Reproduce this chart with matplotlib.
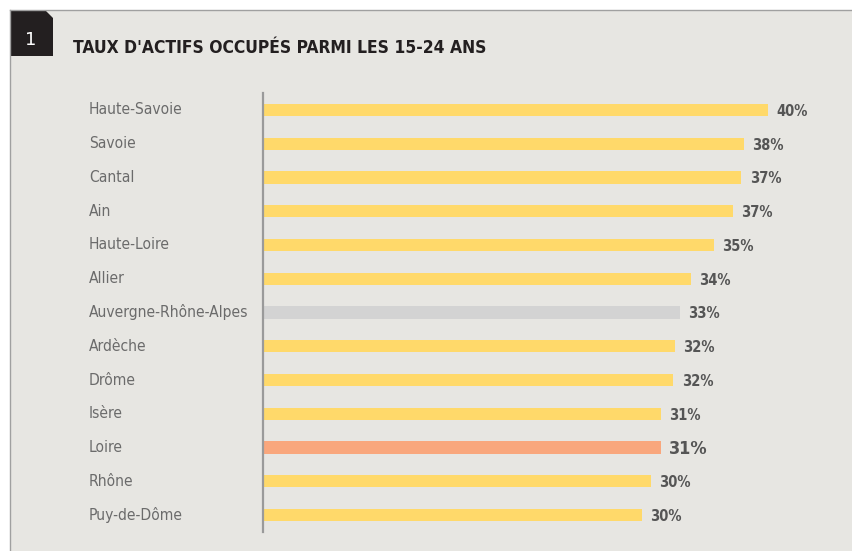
import matplotlib
matplotlib.use('Agg')
import matplotlib.pyplot as plt
from matplotlib.patches import Rectangle, Polygon

# data
departements = ["Haute-Savoie", "Savoie", "Cantal", "Ain", "Haute-Loire", "Allier",
                "Auvergne-Rhône-Alpes", "Ardèche", "Drôme", "Isère", "Loire", "Rhône",
                "Puy-de-Dôme"]
taux = [40.0, 38.1, 37.9, 37.2, 35.7, 33.9, 33.0, 32.6, 32.5, 31.5, 31.5, 30.7, 30.0]
labels_taux = ["40%", "38%", "37%", "37%", "35%", "34%", "33%", "32%", "32%", "31%",
               "31%", "30%", "30%"]
region = "Auvergne-Rhône-Alpes"
focus = "Loire"

W, H = 853, 551
BG = "#e7e6e2"
YELLOW = "#ffd96a"
GREY = "#d3d3d3"
SALMON = "#f9a77d"


def fx(px):
    return px / W


def fy(py):
    return 1 - py / H


fig = plt.figure(figsize=(W / 100, H / 100), dpi=100)
fig.patch.set_facecolor("white")

# grey panel with thin border on top and left
fig.patches.append(Rectangle((fx(10), 0), 1 - fx(10), fy(10), transform=fig.transFigure,
                             facecolor=BG, edgecolor="none", zorder=-10))
fig.add_artist(plt.Line2D([fx(10), 1], [fy(10), fy(10)], color="#a0a0a0", lw=1))
fig.add_artist(plt.Line2D([fx(10), fx(10)], [fy(10), 0], color="#a0a0a0", lw=1))

# black tag with cut corner
tag = Polygon([(fx(10), fy(10)), (fx(45), fy(10)), (fx(53), fy(18)),
               (fx(53), fy(56)), (fx(10), fy(56))], closed=True,
              transform=fig.transFigure, facecolor="#231f20", edgecolor="none")
fig.add_artist(tag)
fig.text(fx(31), fy(40), "1", color="white", fontsize=13, ha="center", va="center",
         family="DejaVu Sans")
fig.text(fx(73), fy(48), "TAUX D'ACTIFS OCCUPÉS PARMI LES 15-24 ANS", color="#231f20",
         fontsize=12.5, fontweight="bold", family="DejaVu Sans", ha="left", va="center",
         stretch="condensed")

ax = fig.add_axes([fx(263), fy(532), (768 - 263) / W, (532 - 93) / H])
ax.set_facecolor("none")
ax.set_zorder(5)

colors = []
for d in departements:
    if d == region:
        colors.append(GREY)
    elif d == focus:
        colors.append(SALMON)
    else:
        colors.append(YELLOW)

ypos = list(range(len(departements)))
ax.barh(ypos, taux, height=0.36, color=colors, zorder=2)
ax.set_xlim(0, 40)
ax.set_ylim(len(departements) - 0.5, -0.5)

for s in ["top", "right", "bottom"]:
    ax.spines[s].set_visible(False)
ax.spines["left"].set_color("#9a9a9a")
ax.spines["left"].set_linewidth(1.6)
ax.set_xticks([])
ax.set_yticks([])

for y, d, v, lab in zip(ypos, departements, taux, labels_taux):
    ax.text((89 - 263) / 505, y, d, transform=ax.get_yaxis_transform(),
            ha="left", va="center", fontsize=11.2, color="#6b6b6b",
            family="DejaVu Sans", stretch="condensed")
    big = d == focus
    ax.annotate(lab, (v, y), xytext=(6, -1), textcoords="offset points",
                ha="left", va="center", fontsize=13 if big else 10.5,
                fontweight="bold", color="#555555", family="DejaVu Sans",
                stretch="condensed", annotation_clip=False)

fig.savefig("out.png", dpi=100, facecolor=fig.get_facecolor())
